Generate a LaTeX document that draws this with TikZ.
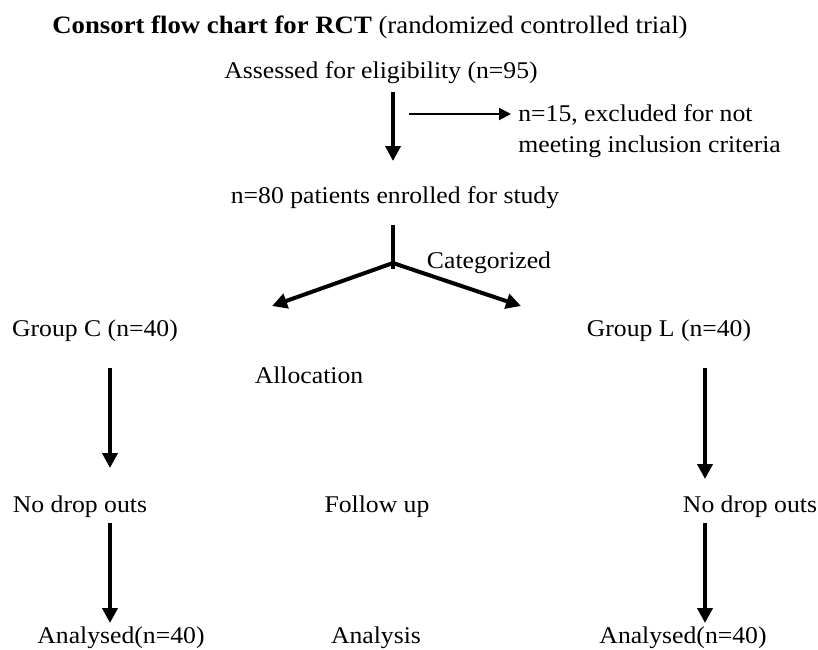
\documentclass[tikz,border=0pt]{standalone}
\usepackage{fontspec}
\setmainfont{Liberation Serif}[FakeStretch=1.07]
\usetikzlibrary{arrows.meta}
\tikzset{
    label text/.style={font=\fontsize{12}{15.5}\selectfont, inner sep=0pt, anchor=base},
    thick arrow/.style={line width=2pt, -{Triangle[length=7.5pt,width=7.5pt]}},
    thin arrow/.style={line width=1pt, -{Triangle[length=6pt,width=6pt]}}
}
\begin{document}
\begin{tikzpicture}[x=0.5pt,y=-0.5pt]
    \useasboundingbox (0,0) rectangle (818,649);

    \node[label text,font=\fontsize{12.5}{15}\selectfont] (title) at (370,33) {\textbf{Consort flow chart for RCT} (randomized controlled trial)};
    \node[label text] (assess) at (381,78) {Assessed for eligibility (n=95)};
    \node[label text,anchor=base west,align=left] (excl) at (518,152) {n=15, excluded for not\\meeting inclusion criteria};
    \node[label text] (enrol) at (395,203) {n=80 patients enrolled for study};
    \node[label text] (cat) at (489,268) {Categorized};
    \node[label text] (grpc) at (95,336) {Group C (n=40)};
    \node[label text] (grpl) at (669,336) {Group L (n=40)};
    \node[label text] (alloc) at (309,383) {Allocation};
    \node[label text] (dropc) at (80,512) {No drop outs};
    \node[label text] (follow) at (377,512) {Follow up};
    \node[label text] (dropl) at (750,512) {No drop outs};
    \node[label text] (anac) at (121,643) {Analysed(n=40)};
    \node[label text] (anal) at (376,643) {Analysis};
    \node[label text] (anal) at (683,643) {Analysed(n=40)};

    \coordinate (a1) at (393,92);
    \coordinate (a2) at (393,161);
    \coordinate (s1) at (409,114);
    \coordinate (s2) at (511,114);
    \coordinate (stem) at (393,225);
    \coordinate (split) at (393,263);
    \coordinate (stemend) at (393,269);
    \coordinate (tc) at (272,306);
    \coordinate (tl) at (521,306);
    \coordinate (c1) at (110,368);
    \coordinate (c2) at (110,468);
    \coordinate (c3) at (110,523);
    \coordinate (c4) at (110,623);
    \coordinate (l1) at (705,368);
    \coordinate (l2) at (705,479);
    \coordinate (l3) at (705,523);
    \coordinate (l4) at (705,623);

    \path [thick arrow] (a1) edge node {} (a2);
    \path [thin arrow] (s1) edge node {} (s2);
    \path [line width=2pt] (stem) edge node {} (stemend);
    \path [thick arrow] (split) edge node {} (tc);
    \path [thick arrow] (split) edge node {} (tl);
    \path [thick arrow] (c1) edge node {} (c2);
    \path [thick arrow] (c3) edge node {} (c4);
    \path [thick arrow] (l1) edge node {} (l2);
    \path [thick arrow] (l3) edge node {} (l4);

\end{tikzpicture}
\end{document}
